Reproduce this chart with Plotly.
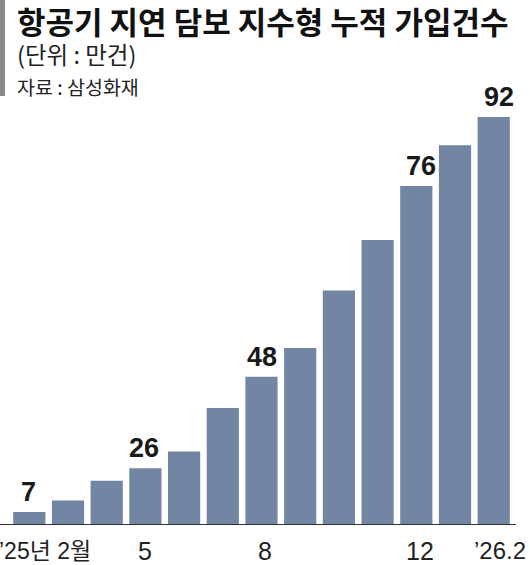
import plotly.graph_objects as go

# ---- data ----
months = ["'25.2", "'25.3", "'25.4", "'25.5", "'25.6", "'25.7", "'25.8",
          "'25.9", "'25.10", "'25.11", "'25.12", "'26.1", "'26.2"]
# bar lengths as drawn in the graphic (만건)
bar_heights = [2.7, 5.3, 9.8, 12.6, 16.4, 26.2, 33.3, 39.8, 52.8, 64.2, 76.4, 85.6, 92.0]
# values printed above selected bars
value_labels = {0: "7", 3: "26", 6: "48", 10: "76", 12: "92"}
# x-axis labels under selected bars
axis_labels = {3: "5", 6: "8", 10: "12", 12: "\u201926.2"}
first_label = "\u201925년 2월"

title = "항공기 지연 담보 지수형 누적 가입건수"
unit = "(단위 : 만건)"
source = "자료 : 삼성화재"

# ---- layout geometry / style ----
W, H = 530, 565
ML, MR, MT, MB = 0, 14, 100, 41
PW = W - ML - MR
PH = H - MT - MB
X_RANGE = [-0.757, 12.576]
Y_MAX = 95.84
value_xshift = {0: -1, 3: -1, 6: 0, 10: 5, 12: 5}
axis_xshift = {3: 0, 6: 3, 10: 4, 12: 6}


def px_x(p):
    return (p - ML) / PW


def px_y(p):
    return (H - MB - p) / PH


NUM = "Liberation Sans Narrow, Arial Narrow, Liberation Sans, Arial, Noto Sans CJK KR"
KR = "Noto Sans CJK KR, Noto Sans CJK SC, sans-serif"

fig = go.Figure()
fig.add_trace(go.Bar(
    x=list(range(len(months))),
    y=bar_heights,
    marker=dict(color="#7286A4", line=dict(width=0)),
    hoverinfo="skip",
))

annotations = []
for i, t in value_labels.items():
    annotations.append(dict(
        x=i, y=bar_heights[i], xref="x", yref="y", text=t,
        showarrow=False, yanchor="bottom", xanchor="center", yshift=3,
        xshift=value_xshift.get(i, 0),
        font=dict(family=NUM, size=27, color="#1a1a1a", weight="bold"),
    ))

label_y = px_y(550.5)
for i, t in axis_labels.items():
    annotations.append(dict(
        x=i, y=label_y, xref="x", yref="paper", text=t,
        showarrow=False, yanchor="middle", xanchor="center",
        xshift=axis_xshift.get(i, 0),
        font=dict(family=NUM, size=25 if i != 12 else 24, color="#222222"),
    ))
annotations.append(dict(
    x=X_RANGE[0], y=label_y, xref="x", yref="paper", text=first_label,
    showarrow=False, yanchor="middle", xanchor="left", xshift=-3,
    font=dict(family=NUM, size=23, color="#222222"),
))

annotations.append(dict(
    x=px_x(15), y=px_y(20), xref="paper", yref="paper", text="<b>" + title + "</b>",
    showarrow=False, xanchor="left", yanchor="middle",
    font=dict(family=KR, size=31, color="#111111"),
))
annotations.append(dict(
    x=px_x(15), y=px_y(54), xref="paper", yref="paper", text=unit,
    showarrow=False, xanchor="left", yanchor="middle",
    font=dict(family=KR, size=23.5, color="#222222"),
))
annotations.append(dict(
    x=px_x(15), y=px_y(86), xref="paper", yref="paper", text=source,
    showarrow=False, xanchor="left", yanchor="middle",
    font=dict(family=KR, size=19.5, color="#222222"),
))

fig.update_layout(
    width=W, height=H,
    margin=dict(l=ML, r=MR, t=MT, b=MB, pad=0),
    paper_bgcolor="white", plot_bgcolor="white",
    bargap=0.168,
    showlegend=False,
    xaxis=dict(range=X_RANGE, showgrid=False, zeroline=False, showticklabels=False,
               ticks="", showline=True, linecolor="#333333", linewidth=1.3, fixedrange=True),
    yaxis=dict(range=[0, Y_MAX], showgrid=False, zeroline=False, showticklabels=False,
               ticks="", showline=False, fixedrange=True),
    annotations=annotations,
    shapes=[dict(type="rect", xref="paper", yref="paper",
                 x0=px_x(0), x1=px_x(5), y0=px_y(96), y1=px_y(0),
                 fillcolor="#8a8a8a", line=dict(width=0), layer="above")],
)

fig.write_html(
    "out.html",
    config={"displayModeBar": False},
    post_script="document.documentElement.style.margin='0';"
                "document.body.style.margin='0';document.body.style.padding='0';"
                "document.body.style.overflow='hidden';",
)
